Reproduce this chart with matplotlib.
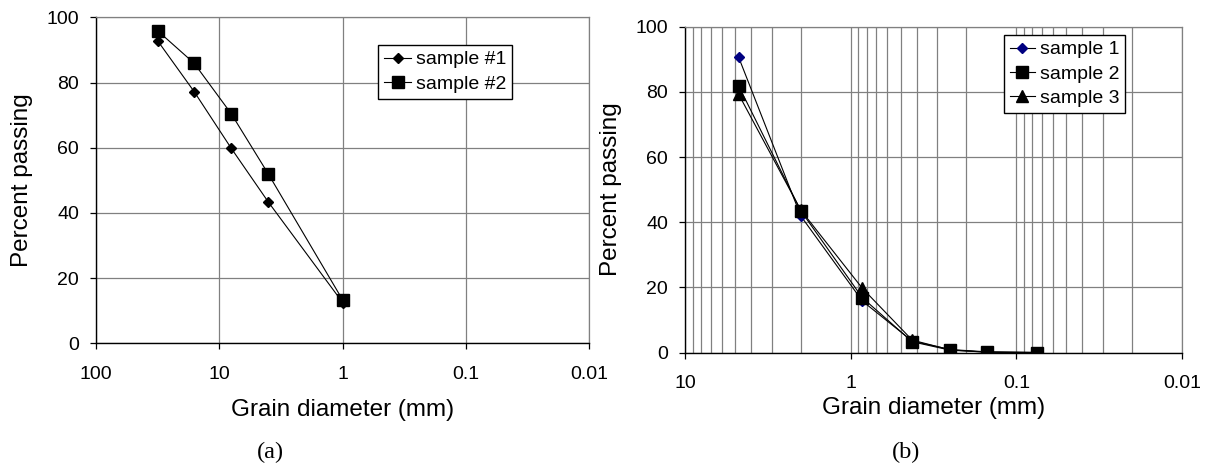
import numpy as np
import matplotlib
matplotlib.use("Agg")
import matplotlib.pyplot as plt
from matplotlib.ticker import FixedLocator, FixedFormatter, LogLocator, NullLocator

# ---- data ----
# panel (a)
size_a = [31.5, 16, 8, 4, 1]
sample1_a = [92.7, 77.2, 59.8, 43.3, 12.5]
sample2_a = [95.8, 85.9, 70.4, 51.9, 13.3]

# panel (b)
size_b = [4.75, 2.0, 0.85, 0.425, 0.25, 0.15, 0.075]
sample1_b = [90.7, 41.9, 15.8, 3.5, 0.9, 0.2, 0.0]
sample2_b = [81.9, 43.5, 16.8, 3.3, 0.7, 0.1, 0.0]
sample3_b = [79.3, 43.7, 19.7, 3.8, 0.8, 0.1, 0.0]

yticks = [0, 20, 40, 60, 80, 100]
xticks_a = [100, 10, 1, 0.1, 0.01]
xlabels_a = ["100", "10", "1", "0.1", "0.01"]
xticks_b = [10, 1, 0.1, 0.01]
xlabels_b = ["10", "1", "0.1", "0.01"]

plt.rcParams['font.family'] = ['Liberation Sans', 'DejaVu Sans']
GRID = '#808080'

W, H = 1208, 466
fig = plt.figure(figsize=(W / 100, H / 100), dpi=100)


def px_axes(x0, x1, ytop, ybot):
    return fig.add_axes([x0 / W, 1 - ybot / H, (x1 - x0) / W, (ybot - ytop) / H])


def style(ax, xticks, xlabels, minor):
    ax.set_xscale('log')
    ax.set_xlim(xticks[0], xticks[-1])
    ax.set_ylim(0, 100)
    ax.xaxis.set_major_locator(FixedLocator(xticks))
    ax.xaxis.set_major_formatter(FixedFormatter(xlabels))
    if minor:
        ax.xaxis.set_minor_locator(LogLocator(base=10, subs=np.arange(2, 10)))
    else:
        ax.xaxis.set_minor_locator(NullLocator())
    ax.set_yticks(yticks)
    ax.grid(True, which='major', color=GRID, lw=0.9)
    if minor:
        ax.grid(True, which='minor', axis='x', color=GRID, lw=0.9)
    ax.tick_params(which='major', direction='out', length=4.3, width=0.9,
                   labelsize=14, color='black')
    ax.tick_params(axis='x', which='major', pad=12)
    ax.tick_params(axis='y', which='major', pad=8)
    ax.tick_params(which='minor', length=0)
    for s in ['top', 'right']:
        ax.spines[s].set_color(GRID)
        ax.spines[s].set_linewidth(0.9)
    for s in ['left', 'bottom']:
        ax.spines[s].set_color('black')
        ax.spines[s].set_linewidth(1.0)
    ax.set_axisbelow(True)
    ax.set_xlabel('Grain diameter (mm)', fontsize=17.5)
    ax.set_ylabel('Percent passing', fontsize=17.5)
    ax.xaxis.label.set_va('center')
    ax.yaxis.label.set_va('center')


def add_legend(ax, x, y, hl):
    leg = ax.legend(loc='upper left', bbox_to_anchor=(x / W, 1 - y / H),
                    bbox_transform=fig.transFigure, fontsize=14, frameon=True,
                    fancybox=False, edgecolor='black', framealpha=1,
                    borderpad=0.3, labelspacing=0.35, handlelength=hl,
                    handletextpad=0.25, borderaxespad=0)
    leg.get_frame().set_linewidth(1.0)
    return leg


# ---- panel (a) ----
ax1 = px_axes(96, 589.3, 17.3, 343.3)
style(ax1, xticks_a, xlabels_a, minor=False)
ax1.plot(size_a, sample1_a, color='black', lw=0.8, marker='D', ms=5.5,
         label='sample #1')
ax1.plot(size_a, sample2_a, color='black', lw=0.8, marker='s', ms=8,
         label='sample #2')
ax1.xaxis.set_label_coords(0.5, (343.3 - 410) / 326)
ax1.yaxis.set_label_coords((22 - 96) / 493.3, 0.5)
add_legend(ax1, 378.3, 45, 1.4)

# ---- panel (b) ----
ax2 = px_axes(685, 1182, 26.7, 352.5)
style(ax2, xticks_b, xlabels_b, minor=True)
ax2.plot(size_b, sample1_b, color='black', lw=0.8, marker='D', ms=5.5,
         mfc='#000080', mec='#000080', label='sample 1')
ax2.plot(size_b, sample2_b, color='black', lw=0.8, marker='s', ms=8.3,
         label='sample 2')
ax2.plot(size_b, sample3_b, color='black', lw=0.8, marker='^', ms=8.3,
         label='sample 3')
ax2.xaxis.set_label_coords(0.5, (352.5 - 408) / 325.8)
ax2.yaxis.set_label_coords((611 - 685) / 497, 0.5)
add_legend(ax2, 1004, 35, 1.3)

# panel captions
fig.text(270 / W, 1 - 452 / H, '(a)', ha='center', va='center',
         fontsize=17.6, family=['Liberation Serif', 'DejaVu Serif'])
fig.text(906 / W, 1 - 452 / H, '(b)', ha='center', va='center',
         fontsize=17.6, family=['Liberation Serif', 'DejaVu Serif'])

fig.savefig('out.png', dpi=100)
